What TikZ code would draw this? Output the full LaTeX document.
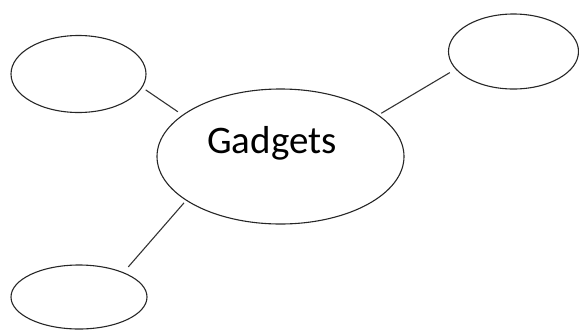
\documentclass[tikz,border=0pt]{standalone}
\usepackage{fontspec}
\setmainfont{Carlito}
\usetikzlibrary{shapes.geometric}
\begin{document}
\begin{tikzpicture}[x=1bp,y=-1bp,
  bubble/.style={draw=black!85,line width=1.1bp,ellipse,inner sep=0pt},
  link/.style={draw=black!80,line width=1.1bp}]
\useasboundingbox (0,0) rectangle (579,329);
\clip (0,0) rectangle (579,329);
\node[bubble,minimum width=247bp,minimum height=135bp] (c) at (280.5,156.5) {};
\node[bubble,minimum width=135bp,minimum height=77bp] (tl) at (78.5,74) {};
\node[bubble,minimum width=130bp,minimum height=75bp] (tr) at (513.5,51.5) {};
\node[bubble,minimum width=136bp,minimum height=64bp] (bl) at (79,297) {};
\node[anchor=base,inner sep=0pt,font=\fontsize{39bp}{44bp}\selectfont] (t) at (272,153) {Gadgets};
\draw[link,shorten <=4.1bp,shorten >=5.5bp] (tl.-12.1) -- (c.157.8);
\draw[link,shorten <=6.6bp,shorten >=3.1bp] (tr.-163.4) -- (c.23.4);
\draw[link,shorten <=7.1bp,shorten >=3bp] (bl.29.1) -- (c.205.4);
\end{tikzpicture}
\end{document}
